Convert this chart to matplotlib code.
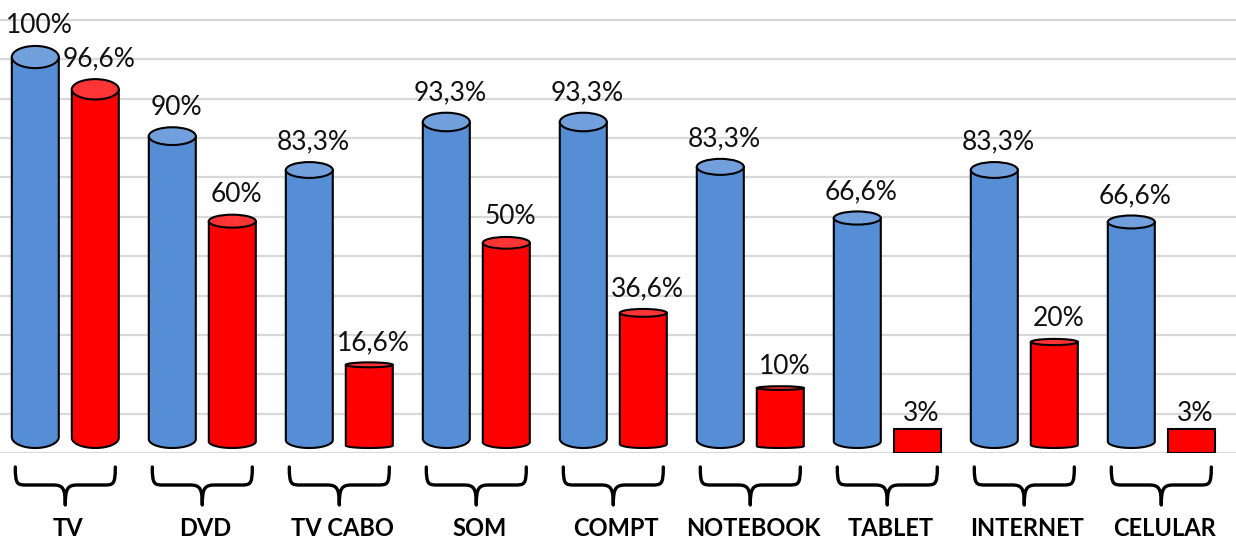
import matplotlib
matplotlib.use('Agg')
import matplotlib.pyplot as plt
import numpy as np
from matplotlib.patches import Ellipse, Polygon, Rectangle, PathPatch
from matplotlib.path import Path
from matplotlib.transforms import blended_transform_factory

# ---------------- data ----------------
categories = ['TV', 'DVD', 'TV CABO', 'SOM', 'COMPT', 'NOTEBOOK', 'TABLET', 'INTERNET', 'CELULAR']
# drawn heights of the cylinders (grid = 10 units)
blue_values = [100.6, 80.5, 71.9, 84.1, 84.1, 72.7, 59.7, 71.9, 58.7]
red_values = [92.4, 58.9, 22.4, 53.4, 35.6, 16.5, 6.1, 28.2, 6.1]
blue_labels = ['100%', '90%', '83,3%', '93,3%', '93,3%', '83,3%', '66,6%', '83,3%', '66,6%']
red_labels = ['96,6%', '60%', '16,6%', '50%', '36,6%', '10%', '3%', '20%', '3%']
grid_ticks = list(range(0, 111, 10))

# ---------------- layout ----------------
W, H = 1236, 543
fig = plt.figure(figsize=(W / 100, H / 100), dpi=100)
base_px = 453
ax = fig.add_axes([0, (H - base_px) / H, 1, base_px / H])
PX_X = 1 / 137.0          # data x-units per pixel
x0_px = 65.3
ax.set_xlim(-x0_px * PX_X, (W - x0_px) * PX_X)
unit_px = 3.936           # pixels per y unit
ax.set_ylim(0, base_px / unit_px)
ax.axis('off')

for t in grid_ticks:
    ax.axhline(t, color='#d9d9d9', lw=1.6, zorder=1)

BAR_W = 47 * PX_X
OFF = 30 * PX_X
BOTTOM = 1.27
PT_PER_PX = 0.72
LBL_DX = 4 * PT_PER_PX

blue_body, blue_top = '#558ed5', '#72a0dd'
red_body, red_top = '#ff0000', '#ff3535'


def cylinder(xc, v, body, top, label):
    if v < 10:
        ax.add_patch(Rectangle((xc - BAR_W / 2, 0), BAR_W, v, facecolor=body,
                               edgecolor='black', lw=1.5, zorder=3))
        ax.annotate(label, (xc, v), xytext=(LBL_DX, 7.5 * PT_PER_PX), textcoords='offset points',
                    ha='center', va='baseline', fontsize=19, family='Lato',
                    color='#111111', zorder=1.5)
        return
    ry = 0.028 * v
    yb = BOTTOM + ry
    t = np.linspace(np.pi, 2 * np.pi, 60)
    bx = xc + BAR_W / 2 * np.cos(t)
    by = yb + ry * np.sin(t)
    verts = [(xc - BAR_W / 2, v)] + list(zip(bx, by)) + [(xc + BAR_W / 2, v)]
    ax.add_patch(Polygon(verts, closed=True, facecolor=body, edgecolor='black',
                         lw=1.5, joinstyle='round', zorder=3))
    ax.add_patch(Ellipse((xc, v), BAR_W, 2 * ry, facecolor=top, edgecolor='black',
                         lw=1.5, zorder=4))
    ax.annotate(label, (xc, v + ry), xytext=(LBL_DX, 12.5 * PT_PER_PX), textcoords='offset points',
                ha='center', va='baseline', fontsize=19, family='Lato',
                color='#111111', zorder=1.5)


for i in range(len(categories)):
    cylinder(i - OFF, blue_values[i], blue_body, blue_top, blue_labels[i])
    cylinder(i + OFF, red_values[i], red_body, red_top, red_labels[i])

# ---------------- braces and category labels ----------------
trans = blended_transform_factory(ax.transData, fig.transFigure)


def fy(px):
    return (H - px) / H


for i, cat in enumerate(categories):
    cx = i
    hw = 50 * PX_X
    yt, ym, yb = fy(467), fy(485), fy(505)
    k1 = 38 * PX_X
    k2 = 12 * PX_X
    d = 2 * PX_X
    verts = [
        (cx - hw, yt),
        (cx - hw, ym), (cx - hw + d, ym), (cx - k1, ym),
        (cx - k2, ym),
        (cx - d, ym), (cx, fy(489)), (cx, yb),
        (cx, fy(489)), (cx + d, ym), (cx + k2, ym),
        (cx + k1, ym),
        (cx + hw - d, ym), (cx + hw, ym), (cx + hw, yt),
    ]
    codes = [Path.MOVETO,
             Path.CURVE4, Path.CURVE4, Path.CURVE4,
             Path.LINETO,
             Path.CURVE4, Path.CURVE4, Path.CURVE4,
             Path.CURVE4, Path.CURVE4, Path.CURVE4,
             Path.LINETO,
             Path.CURVE4, Path.CURVE4, Path.CURVE4]
    ax.add_patch(PathPatch(Path(verts, codes), facecolor='none', edgecolor='black',
                           lw=2.4, capstyle='round', joinstyle='round',
                           transform=trans, clip_on=False, zorder=5))
    ax.text(cx + 3 * PX_X, fy(535.5), cat, transform=trans, ha='center', va='baseline',
            fontsize=17, fontweight='bold', family='Lato', color='black')

fig.savefig('out.png', dpi=100)
